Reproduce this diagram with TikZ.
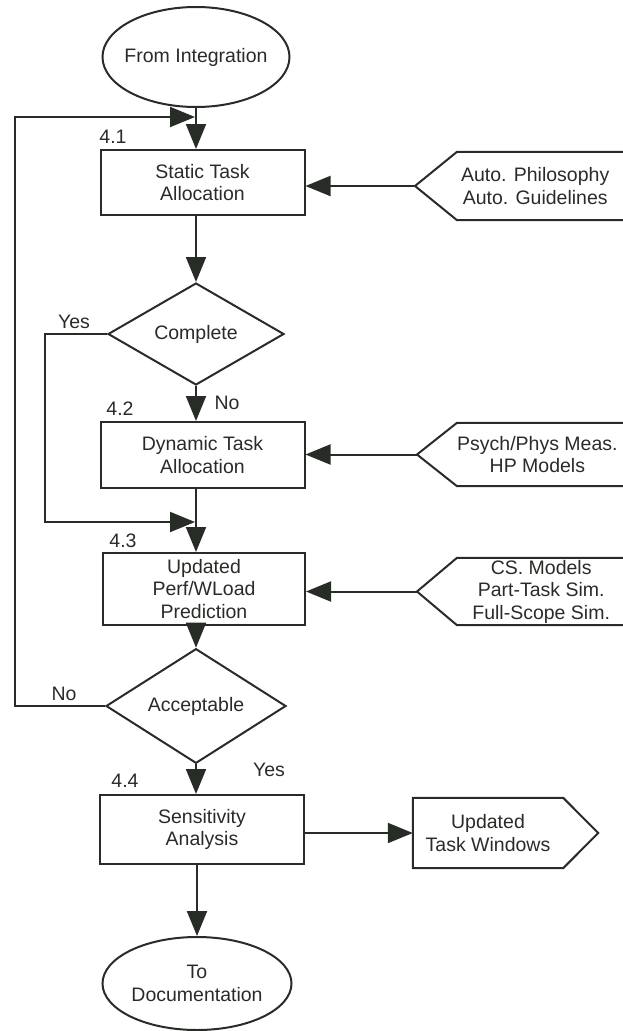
\documentclass[tikz,border=0pt]{standalone}
\usepackage{fontspec}
\setmainfont{Liberation Sans}
\usetikzlibrary{shapes.geometric,arrows.meta,calc}
\definecolor{ink}{RGB}{40,44,38}
\begin{document}
\begin{tikzpicture}[x=1pt,y=-1pt,
  every node/.style={font=\fontsize{19.5}{22.5}\selectfont, text=ink},
  base/.style={draw=ink, line width=2pt, inner sep=0pt, align=center},
  terminal/.style={base, ellipse, inner xsep=-20pt},
  stepbox/.style={base, rectangle, minimum width=204pt},
  decision/.style={base, diamond},
  flow/.style={draw=ink, line width=2pt, line join=miter},
  arr/.style={flow, -{Triangle[length=25pt,width=20pt]}},
  outline/.style={draw=ink, line width=2pt, line join=miter},
  tag/.style={inner sep=0pt},
  source/.style={tag, align=center, anchor=west, minimum width=156pt},
]
\useasboundingbox (0,0) rectangle (623,1031);
\coordinate (rim) at (623,0);
\coordinate (yesx) at (45,0);
\coordinate (nox) at (15,0);

% main column
\node[terminal, minimum width=187pt, minimum height=100pt] (e1) at (196,57) {From Integration};
\node[stepbox, minimum height=65pt] (b1) at (202.5,182.5) {Static Task\\Allocation};
\node[decision, minimum width=176pt, minimum height=102pt] (d1) at (196,334) {Complete};
\node[stepbox, minimum height=66pt] (b2) at (202.5,455) {Dynamic Task\\Allocation};
\node[stepbox, minimum width=202pt, minimum height=72pt] (b3) at (204,589) {Updated\\Perf/WLoad\\Prediction};
\node[decision, minimum width=180pt, minimum height=102pt] (d2) at (196,706) {Acceptable};
\node[stepbox, minimum height=69pt] (b4) at (202,829.5) {Sensitivity\\Analysis};
\node[terminal, minimum width=189pt, minimum height=93pt] (e2) at (197,983.5) {To\\Documentation};

% step numbers and branch labels
\node[tag] (n41) at (113,137) {4.1};
\node[tag] (n42) at (120,409) {4.2};
\node[tag] (n43) at (123,541) {4.3};
\node[tag] (n44) at (125,781) {4.4};
\node[tag] (yes1) at (74,322) {Yes};
\node[tag] (no1) at (227,403) {No};
\node[tag] (no2) at (64,694) {No};
\node[tag] (yes2) at (269,770) {Yes};

% inputs on the right
\node[source, minimum height=68pt] (in1) at (457,186) {Auto. Philosophy\\Auto. Guidelines};
\draw[outline] (in1.north west -| rim) -- (in1.north west) -- ([xshift=-42pt]in1.west) coordinate (in1tip) -- (in1.south west) -- (in1.south west -| rim);
\node[source, minimum height=63pt] (in2) at (457,454.5) {Psych/Phys Meas.\\HP Models};
\draw[outline] (in2.north west -| rim) -- (in2.north west) -- ([xshift=-40pt]in2.west) coordinate (in2tip) -- (in2.south west) -- (in2.south west -| rim);
\node[source, minimum width=168pt, minimum height=67pt] (in3) at (457,591.5) {CS. Models\\Part-Task Sim.\\Full-Scope Sim.};
\draw[outline] (in3.north west -| rim) -- (in3.north west) -- ([xshift=-40pt]in3.west) coordinate (in3tip) -- (in3.south west) -- (in3.south west -| rim);

% output
\node[tag, align=center, minimum width=150pt, minimum height=70pt] (out) at (488,833) {Updated\\Task Windows};
\draw[outline] (out.north west) -- (out.north east) -- ([xshift=35pt]out.east) -- (out.south east) -- (out.south west) -- cycle;

% main flow
\draw[arr] (e1.south) -- (e1.south |- b1.north);
\draw[arr] (d1.north |- b1.south) -- (d1.north);
\draw[arr] (d1.south) -- (d1.south |- b2.north);
\draw[arr] (d1.south |- b2.south) -- (d1.south |- b3.north);
\draw[arr] (d2.north |- b3.south) -- (d2.north);
\draw[arr] (d2.south) -- (d2.south |- b4.north);
\draw[arr] (e2.north |- b4.south) -- (e2.north);

% input arrows
\draw[arr] (in1tip) -- (in1tip -| b1.east);
\draw[arr] (in2tip) -- (in2tip -| b2.east);
\draw[arr] (in3tip) -- (in3tip -| b3.east);
\draw[arr] (b4.east |- out.west) -- (out.west);

% branch loops
\coordinate (join1) at (196,117);
\coordinate (join2) at (196,522);
\draw[arr, shorten >=1pt] (d1.west) -- (d1.west -| yesx) -- (yesx |- join2) -- (join2);
\draw[arr, shorten >=1pt] (d2.west) -- (d2.west -| nox) -- (nox |- join1) -- (join1);
\end{tikzpicture}
\end{document}
